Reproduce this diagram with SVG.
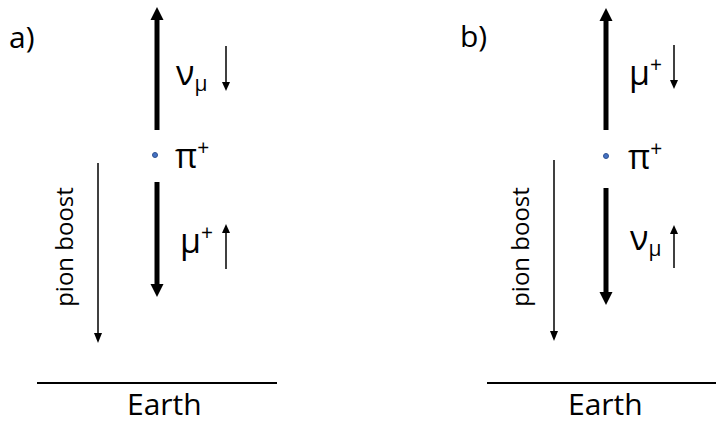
<svg xmlns="http://www.w3.org/2000/svg" width="716" height="426" viewBox="0 0 716 426">
<style>
  text { font-family: "Open Sans", "Liberation Sans", sans-serif; fill: #000; }
  .lbl { font-size: 30px; }
  .gr { font-size: 34px; }
  .sub { font-size: 21px; }
  .sup { font-size: 21px; }
  .boost { font-size: 24px; }
  .thick { stroke: #000; stroke-width: 5; fill: none; }
  .thin { stroke: #000; stroke-width: 1.5; fill: none; }
  .head { fill: #000; stroke: none; }
  .ground { stroke: #000; stroke-width: 2; }
  .dot { fill: #4472C4; stroke: #2F528F; stroke-width: 1; }
</style>

<g id="label-a"><text class="lbl" x="9" y="48">a)</text></g>
<g id="label-b"><text class="lbl" x="460" y="47">b)</text></g>

<g id="pion-a">
  <circle class="dot" cx="155" cy="155" r="2.5"/>
  <text class="gr" x="175" y="168">π<tspan class="sup" dy="-13">+</tspan></text>
</g>
<g id="pion-b">
  <circle class="dot" cx="606" cy="156" r="2.5"/>
  <text class="gr" x="628" y="169">π<tspan class="sup" dy="-13">+</tspan></text>
</g>

<g id="numu-a"><text class="gr" x="176" y="85">ν<tspan class="sub" dy="6">μ</tspan></text></g>
<g id="muplus-a"><text class="gr" x="180" y="253">μ<tspan class="sup" dy="-13">+</tspan></text></g>
<g id="muplus-b"><text class="gr" x="629" y="85">μ<tspan class="sup" dy="-13">+</tspan></text></g>
<g id="numu-b"><text class="gr" x="630" y="250">ν<tspan class="sub" dy="6">μ</tspan></text></g>

<g id="boost-a"><text class="boost" transform="translate(73,247) rotate(-90)" text-anchor="middle">pion boost</text></g>
<g id="boost-b"><text class="boost" transform="translate(529,247) rotate(-90)" text-anchor="middle">pion boost</text></g>

<g id="earth-a">
  <line class="ground" x1="37" y1="383" x2="277" y2="383"/>
  <text class="lbl" x="127" y="415">Earth</text>
</g>
<g id="earth-b">
  <line class="ground" x1="487" y1="383" x2="716" y2="383"/>
  <text class="lbl" x="568" y="415">Earth</text>
</g>

<g id="connectors">
  <line class="thick" x1="157" y1="130" x2="157" y2="19"/>
  <polygon class="head" points="157,7 150.5,20 163.5,20"/>
  <line class="thick" x1="157" y1="182" x2="157" y2="286"/>
  <polygon class="head" points="157,297 150.5,284 163.5,284"/>
  <line class="thin" x1="226" y1="46" x2="226" y2="83"/>
  <polygon class="head" points="226,91 222,82 230,82"/>
  <line class="thin" x1="226" y1="269" x2="226" y2="232"/>
  <polygon class="head" points="226,224 222,233 230,233"/>
  <line class="thin" x1="98" y1="163" x2="98" y2="334"/>
  <polygon class="head" points="98,343 94,333 102,333"/>
  <line class="thick" x1="606" y1="130" x2="606" y2="21"/>
  <polygon class="head" points="606,8 599.5,21 612.5,21"/>
  <line class="thick" x1="606" y1="188" x2="606" y2="293"/>
  <polygon class="head" points="606,305 599.5,292 612.5,292"/>
  <line class="thin" x1="674" y1="45" x2="674" y2="81"/>
  <polygon class="head" points="674,89 670,80 678,80"/>
  <line class="thin" x1="674" y1="268" x2="674" y2="233"/>
  <polygon class="head" points="674,225 670,234 678,234"/>
  <line class="thin" x1="554" y1="160" x2="554" y2="332"/>
  <polygon class="head" points="554,341 550,331 558,331"/>
</g>
</svg>
